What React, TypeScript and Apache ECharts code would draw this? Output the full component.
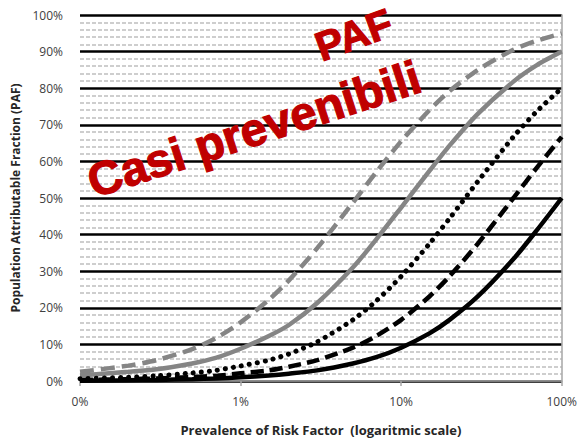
import React, { useEffect, useRef } from "react";
import * as echarts from "echarts";

// Prevalence of risk factor (%), log scale
const prevalence = [0.1, 0.2, 0.3, 0.5, 0.7, 1, 1.5, 2, 3, 5, 7, 10, 15, 20, 30, 50, 70, 100];
// PAF (%) for each curve
const pafGrayDashed = [2.5, 4.2, 5.7, 8.7, 11.7, 16.0, 22.2, 27.5, 36.3, 48.7, 57.1, 65.5, 74.0, 79.2, 85.0, 90.5, 93.0, 95.0];
const pafGraySolid = [1.5, 2.5, 3.2, 4.8, 6.3, 8.8, 12.3, 15.3, 21.3, 31.0, 38.7, 47.4, 57.4, 64.3, 73.0, 81.8, 86.3, 90.0];
const pafDotted = [0.6, 1.0, 1.4, 2.2, 2.9, 4.1, 5.7, 7.4, 10.7, 16.7, 21.9, 28.6, 37.5, 44.4, 54.5, 66.7, 73.7, 80.0];
const pafBlackDashed = [0.3, 0.5, 0.7, 1.1, 1.4, 2.1, 2.9, 3.9, 5.7, 9.1, 12.3, 16.7, 23.1, 28.6, 37.5, 50.0, 58.3, 66.7];
const pafBlackSolid = [0.1, 0.2, 0.3, 0.5, 0.7, 1.0, 1.5, 2.0, 2.9, 4.8, 6.5, 9.1, 13.0, 16.7, 23.1, 33.3, 41.2, 50.0];

const xAxisTitle = "Prevalence of Risk Factor  (logaritmic scale)";
const yAxisTitle = "Population Attributable Fraction (PAF)";
const overlayTexts = ["Casi prevenibili", "PAF"];

const pairs = (ys: number[]) => prevalence.map((p, i) => [p, ys[i]]);

export default function App() {
  const ref = useRef<HTMLDivElement>(null);
  useEffect(() => {
    document.body.style.margin = "0";
    const chart = echarts.init(ref.current!, undefined, { renderer: "svg" });
    const gray = "#858585";
    const mk = (name: string, ys: number[], color: string, type: any, width: number, cap: any = "butt") => ({
      name,
      type: "line",
      data: pairs(ys),
      smooth: 0.25,
      showSymbol: false,
      symbol: "none",
      lineStyle: { color, width, type, cap },
    });
    const red = "#C00000";
    chart.setOption({
      animation: false,
      backgroundColor: "#ffffff",
      grid: { left: 80, right: 18, top: 15, bottom: 58 },
      xAxis: {
        type: "log",
        logBase: 10,
        min: 0.1,
        max: 100,
        name: xAxisTitle,
        nameLocation: "middle",
        nameGap: 42,
        nameTextStyle: { fontFamily: "Open Sans", fontWeight: "bold", fontSize: 13, color: "#262626" },
        axisLine: { show: true, lineStyle: { color: "#a6a6a6", width: 1.5 } },
        axisTick: { show: true, length: 5, lineStyle: { color: "#a6a6a6", width: 1.5 } },
        axisLabel: {
          fontFamily: "Open Sans",
          fontSize: 12,
          color: "#404040",
          margin: 14,
          formatter: (v: number) => Math.round(v) + "%",
        },
        splitLine: { show: false },
        minorTick: { show: false },
      },
      yAxis: [
        {
          type: "value",
          min: 0,
          max: 100,
          interval: 10,
          name: yAxisTitle,
          nameLocation: "middle",
          nameGap: 55,
          nameTextStyle: { fontFamily: "Open Sans", fontWeight: "bold", fontSize: 12, color: "#262626" },
          axisLine: { show: false },
          axisTick: { show: false },
          axisLabel: { fontFamily: "Open Sans", fontSize: 12, color: "#404040", margin: 17, formatter: "{value}%" },
          splitLine: { show: true, lineStyle: { color: "#000000", width: 2.5 } },
          minorTick: { show: false, splitNumber: 5 },
          minorSplitLine: { show: true, lineStyle: { color: "#bfbfbf", width: 1.5, type: [4, 2] } },
        },
        {
          type: "value",
          position: "right",
          min: 0,
          max: 100,
          interval: 10,
          axisLine: { show: true, lineStyle: { color: "#a6a6a6", width: 1.5 } },
          axisTick: { show: false },
          axisLabel: { show: false },
          splitLine: { show: false },
        },
      ],
      series: [
        mk("RR 20", pafGrayDashed, gray, [14, 7], 4.5),
        mk("RR 10", pafGraySolid, gray, "solid", 4.5),
        mk("RR 5", pafDotted, "#000000", [0.1, 8], 5, "round"),
        mk("RR 3", pafBlackDashed, "#000000", [13, 6], 4.5),
        mk("RR 2", pafBlackSolid, "#000000", "solid", 4.5),
      ],
      graphic: [
        {
          type: "text",
          x: 254,
          y: 129,
          rotation: (18 * Math.PI) / 180,
          z: 100,
          style: {
            text: overlayTexts[0],
            fill: red,
            stroke: red,
            lineWidth: 1.2,
            fontFamily: "Arial, 'Liberation Sans', sans-serif",
            fontWeight: "bold",
            fontSize: 47,
            align: "center",
            verticalAlign: "middle",
          },
        },
        {
          type: "text",
          x: 354,
          y: 35,
          rotation: (20 * Math.PI) / 180,
          z: 100,
          style: {
            text: overlayTexts[1],
            fill: red,
            stroke: red,
            lineWidth: 1.2,
            fontFamily: "Arial, 'Liberation Sans', sans-serif",
            fontWeight: "bold",
            fontSize: 41,
            align: "center",
            verticalAlign: "middle",
          },
        },
      ],
    });
    return () => chart.dispose();
  }, []);
  return <div ref={ref} style={{ width: 580, height: 441 }} />;
}
